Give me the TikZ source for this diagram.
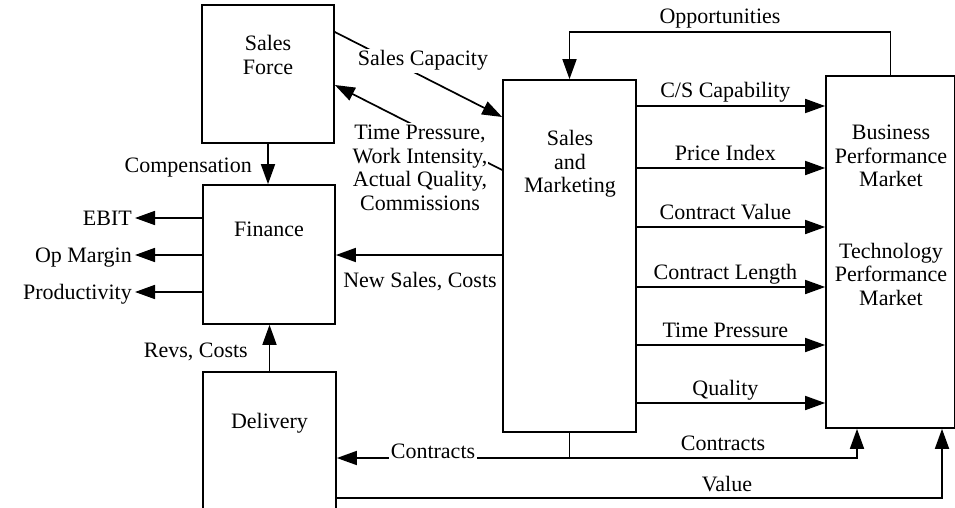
\documentclass[tikz,border=0pt]{standalone}
\usepackage{fontspec}
\setmainfont{Liberation Serif}
\usetikzlibrary{arrows.meta}
\begin{document}
\begin{tikzpicture}[x=1pt,y=-1pt,
  every node/.style={font=\fontsize{22}{23.5}\selectfont},
  box/.style={draw, line width=1.7pt, inner sep=0pt},
  arr/.style={-{Triangle[length=20pt,width=14pt]}, line width=1.7pt},
  ln/.style={line width=1.7pt},
  txt/.style={align=center, inner sep=0pt},
  lab/.style={inner sep=2pt},
  wlab/.style={fill=white, inner sep=2pt}]
\useasboundingbox (0,0) rectangle (955,508);
\clip (0,0) rectangle (955,508);

% boxes
\node[box, minimum width=132pt, minimum height=138pt] (sf) at (268,74) {};
\node[txt] (sft) at (268,55) {Sales\\Force};
\node[box, minimum width=132pt, minimum height=139pt] (fin) at (269,254.5) {};
\node[txt] (fint) at (269,229) {Finance};
\node[box, minimum width=133pt, minimum height=140pt] (dlv) at (269.5,442) {};
\node[txt] (dlvt) at (269.5,423) {Delivery};
\node[box, minimum width=133pt, minimum height=352pt] (sm) at (569.5,256) {};
\node[txt] (smt) at (570,164) {Sales\\and\\Marketing};
\node[box, minimum width=129pt, minimum height=352pt] (bpm) at (890.5,252) {};
\node[txt] (bpmt1) at (891,156) {Business\\Performance\\Market};
\node[txt] (bpmt2) at (891,274) {Technology\\Performance\\Market};

% helper coordinates
\coordinate (yOp) at (0,32);
\coordinate (yCS) at (0,106);
\coordinate (yPI) at (0,168);
\coordinate (yCV) at (0,227);
\coordinate (yCL) at (0,287);
\coordinate (yTP) at (0,345);
\coordinate (yQ) at (0,403);
\coordinate (yCt) at (0,458);
\coordinate (yVal) at (0,498);
\coordinate (xCt) at (857,0);
\coordinate (xVal) at (942,0);
\coordinate (yNS) at (0,255);
\coordinate (ySC1) at (0,32);
\coordinate (ySC2) at (0,117);
\coordinate (yTP1) at (0,170);
\coordinate (yTP2) at (0,85);

% Opportunities
\draw[arr] (bpm.north) -- (bpm.north |- yOp) -| (sm.north);
\node[lab] (opl) at (720,19) {Opportunities};

% outputs of Sales and Marketing to market
\draw[arr] (sm.east |- yCS) -- node[lab, pos=.47, anchor=base, yshift=8pt] (lcs) {C/S Capability} (bpm.west |- yCS);
\draw[arr] (sm.east |- yPI) -- node[lab, pos=.47, anchor=base, yshift=8pt] (lpi) {Price Index} (bpm.west |- yPI);
\draw[arr] (sm.east |- yCV) -- node[lab, pos=.47, anchor=base, yshift=8pt] (lcv) {Contract Value} (bpm.west |- yCV);
\draw[arr] (sm.east |- yCL) -- node[lab, pos=.47, anchor=base, yshift=8pt] (lcl) {Contract Length} (bpm.west |- yCL);
\draw[arr] (sm.east |- yTP) -- node[lab, pos=.47, anchor=base, yshift=8pt] (ltp) {Time Pressure} (bpm.west |- yTP);
\draw[arr] (sm.east |- yQ) -- node[lab, pos=.47, anchor=base, yshift=8pt] (lq) {Quality} (bpm.west |- yQ);

% Contracts
\draw[ln] (sm.south) -- (sm.south |- yCt) coordinate (cj);
\draw[arr] (cj) -- (dlv.east |- cj);
\draw[arr] (cj) -| (bpm.south -| xCt);
\node[wlab, anchor=base] (lct1) at (433,458) {Contracts};
\node[lab, anchor=base] (lct2) at (723,450) {Contracts};

% Value
\draw[arr] (dlv.east |- yVal) -| (bpm.south -| xVal);
\node[lab, anchor=base] (lval) at (727,491) {Value};

% Sales Capacity
\draw[arr] (sf.east |- ySC1) -- (sm.west |- ySC2);
\node[wlab, anchor=base] (lsc) at (423,66) {Sales Capacity};

% Time Pressure etc. back to Sales Force
\draw[arr] (sm.west |- yTP1) -- (sf.east |- yTP2);
\node[txt, fill=white, inner xsep=1pt, inner ysep=2pt] (ltpw) at (420,168) {Time Pressure,\\Work Intensity,\\Actual Quality,\\Commissions};

% Compensation
\draw[arr] (sf.south) -- (sf.south |- fin.north);
\node[lab, anchor=base east] (lcomp) at (254,172) {Compensation};

% Revs, Costs
\draw[arr] (dlv.north) -- (dlv.north |- fin.south);
\node[lab, anchor=base east] (lrev) at (250,357) {Revs, Costs};

% New Sales, Costs
\draw[arr] (sm.west |- yNS) -- (fin.east |- yNS);
\node[lab, anchor=base] (lns) at (420,287) {New Sales, Costs};

% Finance outputs
\node[anchor=base east, inner sep=3pt] (ebit) at (135,225.5) {EBIT};
\node[anchor=base east, inner sep=3pt] (opm) at (135,262.5) {Op Margin};
\node[anchor=base east, inner sep=3pt] (prod) at (135,299.5) {Productivity};
\coordinate (yE) at (0,218);
\coordinate (yO) at (0,255);
\coordinate (yP) at (0,292);
\draw[arr] (fin.west |- yE) -- (ebit.east |- yE);
\draw[arr] (fin.west |- yO) -- (opm.east |- yO);
\draw[arr] (fin.west |- yP) -- (prod.east |- yP);
\end{tikzpicture}
\end{document}
